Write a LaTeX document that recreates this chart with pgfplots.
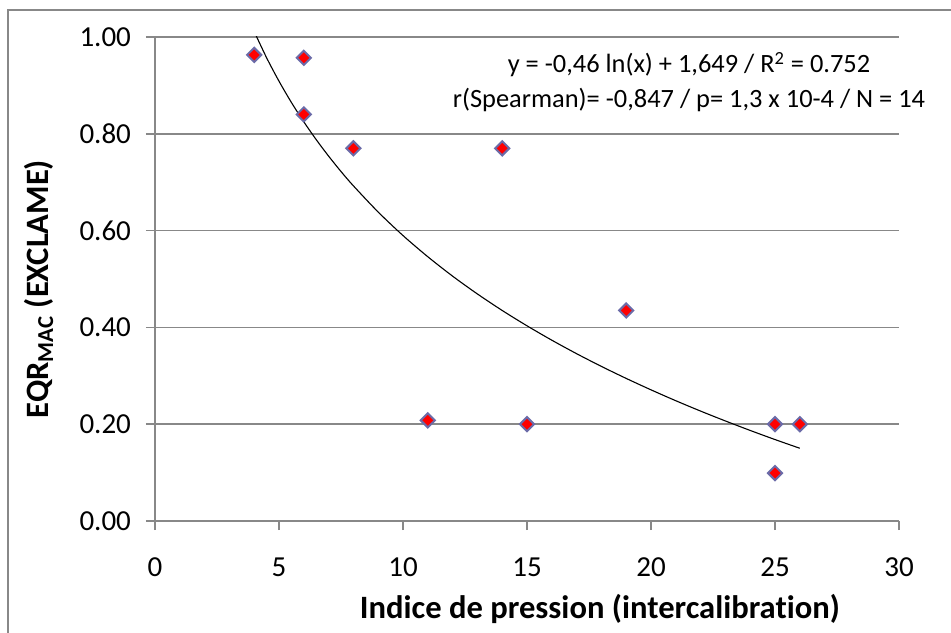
\documentclass[border=0pt]{standalone}
\usepackage{fontspec}
\setmainfont{Carlito}[Ligatures=CommonOff]
\usepackage{pgfplots}
\pgfplotsset{compat=1.18}
\definecolor{gridgray}{HTML}{888888}
\definecolor{mkborder}{HTML}{6B6BA8}
\begin{document}
\fontsize{14.5pt}{17pt}\selectfont
\begin{tikzpicture}
\useasboundingbox (-77.5pt,-55.5pt) rectangle (398pt,260.5pt);
\draw[gridgray, line width=0.75pt] (-73.5pt,-60pt) -- (-73.5pt,255.5pt) -- (402pt,255.5pt);
\begin{axis}[
  at={(0,0)}, anchor=south west,
  scale only axis, width=372pt, height=242pt,
  xmin=0, xmax=30, ymin=0, ymax=1,
  xtick={0,5,10,15,20,25,30},
  ytick={0,0.2,0.4,0.6,0.8,1},
  axis lines*=left,
  ymajorgrids,
  grid style={gridgray, line width=0.75pt},
  axis line style={gridgray, line width=0.75pt},
  tick style={gridgray, line width=0.75pt},
  tick align=outside, major tick length=4.5pt,
  /pgf/number format/assume math mode=true,
  yticklabel style={xshift=-2.5pt, /pgf/number format/.cd, fixed, fixed zerofill, precision=2},
  xticklabel style={yshift=-9pt},
  xlabel={\fontsize{16.3pt}{19pt}\selectfont\bfseries Indice de pression (intercalibration)},
  ylabel={\fontsize{16.3pt}{19pt}\selectfont\bfseries EQR\textsubscript{MAC} (EXCLAME)},
  xlabel style={at={(rel axis cs:0.598,-0.2004)}, anchor=base},
  ylabel style={at={(rel axis cs:-0.1438,0.4793)}, anchor=base, rotate=0},
]
\addplot[black, line width=0.55pt, no marks, smooth] coordinates {
(4,1.0113) (4.5,0.9571) (5,0.9087) (5.5,0.8648) (6,0.8248) (6.5,0.7880)
(7,0.7539) (7.5,0.7221) (8,0.6925) (9,0.6383) (10,0.5898) (11,0.5460)
(12,0.5059) (13,0.4691) (14,0.4350) (15,0.4033) (16,0.3736) (17,0.3457)
(18,0.3194) (19,0.2946) (20,0.2710) (21,0.2485) (22,0.2271) (23,0.2067)
(24,0.1871) (25,0.1683) (26,0.1503)
};
\addplot[only marks, mark=square*, mark size=2.5pt,
  mark options={rotate=45, fill=red, draw=mkborder, line width=1pt}] coordinates {
(4,0.963) (6,0.957) (6,0.840) (8,0.770) (14,0.770) (11,0.208) (15,0.200)
(19,0.435) (25,0.200) (26,0.200) (25,0.099)
};
\end{axis}
\node[anchor=base, font=\fontsize{13.2pt}{16pt}\selectfont] at (267pt,224pt) {y = -0,46 ln(x) + 1,649 / R\textsuperscript{2} = 0.752};
\node[anchor=base, font=\fontsize{13.2pt}{16pt}\selectfont] at (267pt,206.5pt) {r(Spearman)= -0,847 / p= 1,3 x 10-4 / N = 14};
\end{tikzpicture}
\end{document}
